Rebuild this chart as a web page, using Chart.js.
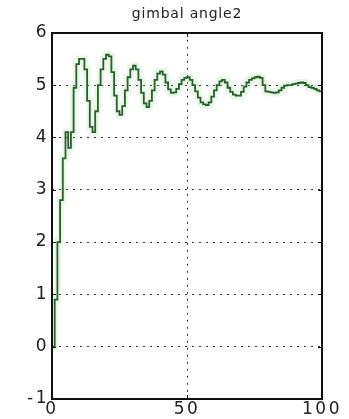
<!DOCTYPE html>
<html>
<head>
<meta charset="utf-8">
<script src="https://cdn.jsdelivr.net/npm/chart.js@4/dist/chart.umd.min.js"></script>
<style>
  html, body { margin: 0; padding: 0; background: #ffffff; }
  #wrap { width: 349px; height: 419px; }
</style>
</head>
<body>
<div id="wrap"><canvas id="c" width="349" height="419"></canvas></div>
<script>
// Sample times (s) and the measured gimbal angle at each sample
const sampleTimes = [
  0, 1, 2, 3, 4, 5, 6, 7, 8, 9,
  10, 11, 12, 13, 14, 15, 16, 17, 18, 19,
  20, 21, 22, 23, 24, 25, 26, 27, 28, 29,
  30, 31, 32, 33, 34, 35, 36, 37, 38, 39,
  40, 41, 42, 43, 44, 45, 46, 47, 48, 49,
  50, 51, 52, 53, 54, 55, 56, 57, 58, 59,
  60, 61, 62, 63, 64, 65, 66, 67, 68, 69,
  70, 71, 72, 73, 74, 75, 76, 77, 78, 79,
  80, 81, 82, 83, 84, 85, 86, 87, 88, 89,
  90, 91, 92, 93, 94, 95, 96, 97, 98, 99,
  100
];
const angleValues = [
  0.00, 0.90, 2.00, 2.80, 3.60, 4.10, 3.80, 4.10, 4.95, 5.40,
  5.50, 5.50, 5.30, 4.70, 4.20, 4.10, 4.50, 5.00, 5.30, 5.50,
  5.58, 5.55, 5.25, 4.80, 4.50, 4.43, 4.60, 4.90, 5.15, 5.30,
  5.37, 5.30, 5.10, 4.85, 4.65, 4.58, 4.70, 4.90, 5.10, 5.22,
  5.26, 5.20, 5.05, 4.92, 4.85, 4.86, 4.93, 5.02, 5.10, 5.14,
  5.15, 5.10, 5.00, 4.88, 4.76, 4.67, 4.63, 4.62, 4.67, 4.78,
  4.90, 5.00, 5.07, 5.10, 5.05, 4.95, 4.87, 4.82, 4.80, 4.80,
  4.87, 4.97, 5.05, 5.10, 5.13, 5.15, 5.16, 5.14, 5.00, 4.88,
  4.87, 4.86, 4.85, 4.86, 4.90, 4.95, 4.99, 5.00, 5.00, 5.02,
  5.03, 5.04, 5.05, 5.04, 5.00, 4.96, 4.95, 4.93, 4.90, 4.88,
  4.88
];
const xTickValues = [0, 50, 100];
const yTickValues = [-1, 0, 1, 2, 3, 4, 5, 6];
const chartTitle = 'gimbal angle2';

const points = sampleTimes.map((t, i) => ({ x: t, y: angleValues[i] }));

// Run a draw method with extra spacing between letters
function withSpacing(obj, method, spacing) {
  if (!obj || obj['_spaced_' + method]) return;
  const orig = obj[method].bind(obj);
  obj[method] = function (...args) {
    const c = this.ctx;
    const prev = c.letterSpacing;
    c.letterSpacing = spacing;
    orig(...args);
    c.letterSpacing = prev || '0px';
  };
  obj['_spaced_' + method] = true;
}

// Wide, airy lettering for the tick labels and the title
const wideLettering = {
  id: 'wideLettering',
  afterLayout(chart) {
    Object.values(chart.scales).forEach(scale => withSpacing(scale, 'drawLabels', '2.5px'));
    withSpacing(chart.titleBlock, 'draw', '0.8px');
  }
};

// Box around the plot with short inward tick marks on all four sides
const boxFrame = {
  id: 'boxFrame',
  afterDraw(chart) {
    const { ctx, chartArea: a, scales } = chart;
    ctx.save();
    ctx.strokeStyle = '#111111';
    ctx.lineWidth = 1;
    const len = 4;
    ctx.beginPath();
    yTickValues.forEach(v => {
      const y = Math.round(scales.y.getPixelForValue(v)) + 0.5;
      ctx.moveTo(a.left, y); ctx.lineTo(a.left + len, y);
      ctx.moveTo(a.right, y); ctx.lineTo(a.right - len, y);
    });
    xTickValues.forEach(v => {
      const x = Math.round(scales.x.getPixelForValue(v)) + 0.5;
      ctx.moveTo(x, a.bottom); ctx.lineTo(x, a.bottom - len);
      ctx.moveTo(x, a.top); ctx.lineTo(x, a.top + len);
    });
    ctx.stroke();
    ctx.lineWidth = 2;
    ctx.strokeRect(Math.round(a.left), Math.round(a.top),
                   Math.round(a.right - a.left), Math.round(a.bottom - a.top));
    ctx.restore();
  }
};

new Chart(document.getElementById('c'), {
  type: 'line',
  data: {
    datasets: [
      {
        data: points,
        borderColor: '#2a5e2a',
        borderWidth: 1.8,
        stepped: true,
        pointRadius: 0,
        fill: false
      },
      {
        data: points,
        borderColor: 'rgba(150, 220, 150, 0.22)',
        borderWidth: 7,
        stepped: true,
        pointRadius: 0,
        fill: false
      }
    ]
  },
  options: {
    responsive: false,
    devicePixelRatio: 1,
    animation: false,
    events: [],
    layout: { padding: { left: 0, right: 27, top: 0, bottom: 0 } },
    plugins: {
      legend: { display: false },
      tooltip: { enabled: false },
      title: {
        display: true,
        fullSize: false,
        text: chartTitle,
        color: '#222222',
        font: { family: 'DejaVu Sans', size: 14, weight: 'normal', lineHeight: 1.2 },
        padding: { top: 6, bottom: 10 }
      }
    },
    scales: {
      x: {
        type: 'linear',
        min: 0,
        max: 100,
        afterBuildTicks(scale) { scale.ticks = xTickValues.map(v => ({ value: v })); },
        afterFit(scale) { scale.height = 20; },
        grid: { color: '#333333', lineWidth: 1, drawTicks: false },
        border: { display: false, dash: [2, 5] },
        ticks: {
          padding: 0,
          color: '#222222',
          maxRotation: 0,
          font: { family: 'DejaVu Sans', size: 17 }
        }
      },
      y: {
        type: 'linear',
        min: -1,
        max: 6,
        afterBuildTicks(scale) { scale.ticks = yTickValues.map(v => ({ value: v })); },
        afterFit(scale) { scale.width = 52; },
        grid: { color: '#333333', lineWidth: 1, drawTicks: false },
        border: { display: false, dash: [2, 5] },
        ticks: {
          padding: 3,
          color: '#222222',
          font: { family: 'DejaVu Sans', size: 17 }
        }
      }
    }
  },
  plugins: [wideLettering, boxFrame]
});
</script>
</body>
</html>
